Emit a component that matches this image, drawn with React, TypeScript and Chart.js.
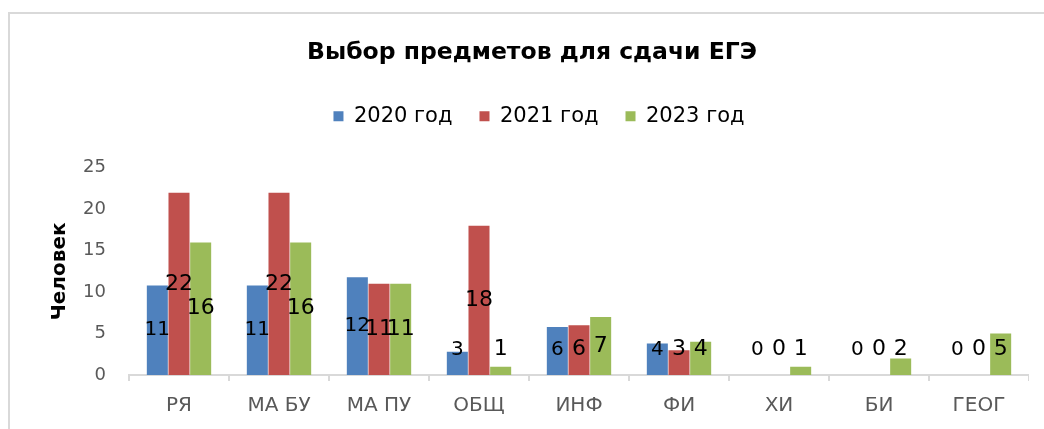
import React, { useEffect, useRef } from 'react';
import { Chart, registerables } from 'chart.js';

Chart.register(...registerables);

const categories = ['РЯ', 'МА БУ', 'МА ПУ', 'ОБЩ', 'ИНФ', 'ФИ', 'ХИ', 'БИ', 'ГЕОГ'];
const seriesNames = ['2020 год', '2021 год', '2023 год'];
const values2020 = [10.8, 10.8, 11.8, 2.8, 5.8, 3.8, 0, 0, 0];
const values2021 = [22, 22, 11, 18, 6, 3, 0, 0, 0];
const values2023 = [16, 16, 11, 1, 7, 4, 1, 2, 5];
const seriesColors = ['#4F81BD', '#C0504D', '#9BBB59'];
const yMin = 0;
const yMax = 25;
const yStep = 5;

const FONT = '"DejaVu Sans", "Noto Sans", sans-serif';

const legendMargin = {
  id: 'legendMargin',
  beforeInit(chart: any) {
    if (!chart.legend) return;
    const orig = chart.legend.fit;
    chart.legend.fit = function fit() {
      orig.bind(chart.legend)();
      this.height += 31;
    };
  },
  afterLayout(chart: any) {
    if (!chart.legend) return;
    chart.legend.left += 7;
    chart.legend.right += 7;
  },
};

const dataLabels = {
  id: 'dataLabels',
  afterDatasetsDraw(chart: any) {
    const ctx = chart.ctx;
    ctx.save();
    ctx.textAlign = 'center';
    ctx.textBaseline = 'middle';
    ctx.fillStyle = '#000000';
    chart.data.datasets.forEach((ds: any, di: number) => {
      const meta = chart.getDatasetMeta(di);
      ctx.font = (di === 0 ? '20px ' : '22px ') + FONT;
      meta.data.forEach((el: any, i: number) => {
        const v = ds.data[i];
        const center = (el.y + el.base) / 2;
        const y = Math.min(center, el.base - 25.5);
        ctx.fillText(String(Math.round(v)), el.x, y);
      });
    });
    ctx.restore();
  },
};

export default function App() {
  const canvasRef = useRef<HTMLCanvasElement | null>(null);

  useEffect(() => {
    const canvas = canvasRef.current;
    if (!canvas) return;
    const datasets = [values2020, values2021, values2023].map((vals, i) => ({
      label: seriesNames[i],
      data: vals,
      backgroundColor: seriesColors[i],
      borderWidth: 0,
      categoryPercentage: 0.65,
      barPercentage: 0.97,
    }));
    const chart = new Chart(canvas, {
      type: 'bar',
      data: { labels: categories, datasets },
      options: {
        responsive: false,
        animation: false,
        devicePixelRatio: 1,
        layout: { padding: { left: 0, right: 0, top: 0, bottom: 0 } },
        plugins: {
          title: {
            display: true,
            text: 'Выбор предметов для сдачи ЕГЭ',
            color: '#000000',
            font: { family: FONT, size: 23.5, weight: 'bold', lineHeight: 1.2 },
            padding: { top: 39, bottom: 11.6 },
          },
          legend: {
            display: true,
            position: 'top',
            labels: {
              boxWidth: 10,
              boxHeight: 10,
              padding: 27,
              color: '#000000',
              font: { family: FONT, size: 21 },
            },
          },
          tooltip: { enabled: false },
        },
        scales: {
          x: {
            grid: {
              display: true,
              drawOnChartArea: false,
              drawTicks: true,
              tickLength: 6,
              color: '#D9D9D9',
              lineWidth: 2,
              offset: true,
            },
            border: { display: true, color: '#D9D9D9', width: 2 },
            ticks: {
              color: '#595959',
              padding: 13,
              font: { family: FONT, size: 20, lineHeight: 1.2 },
              maxRotation: 0,
              autoSkip: false,
            },
            afterFit(scale: any) {
              scale.height = 54;
            },
          },
          y: {
            min: yMin,
            max: yMax,
            grid: { display: false, drawTicks: false },
            border: { display: false },
            ticks: {
              stepSize: yStep,
              color: '#595959',
              padding: 23,
              font: { family: FONT, size: 18 },
            },
            title: {
              display: true,
              text: 'Человек',
              color: '#000000',
              font: { family: FONT, size: 20, weight: 'bold', lineHeight: 1.2 },
              padding: { top: 13, bottom: 0 },
            },
            afterFit(scale: any) {
              scale.width = 94;
            },
          },
        },
      },
      plugins: [legendMargin, dataLabels],
    } as any);
    return () => chart.destroy();
  }, []);

  return (
    <div
      style={{
        position: 'fixed',
        left: 0,
        top: 0,
        width: 1044,
        height: 429,
        overflow: 'hidden',
        background: '#ffffff',
      }}
    >
      <div
        style={{
          position: 'absolute',
          left: 8,
          top: 12,
          width: 1200,
          height: 600,
          borderTop: '2px solid #D9D9D9',
          borderLeft: '2px solid #D9D9D9',
        }}
      />
      <canvas
        ref={canvasRef}
        width={994}
        height={429}
        style={{ position: 'absolute', left: 35, top: 0, width: 994, height: 429 }}
      />
    </div>
  );
}
